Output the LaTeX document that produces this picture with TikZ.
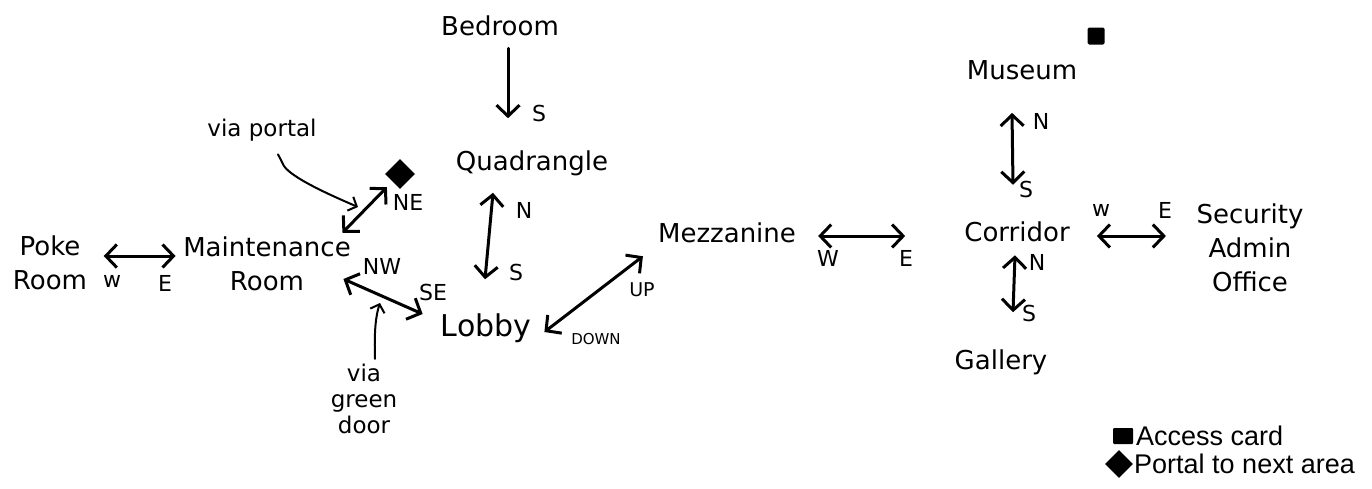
\documentclass[tikz,border=0pt]{standalone}
\usepackage{fontspec}
\setmainfont{DejaVu Sans}
\newfontfamily\legendfont{Liberation Sans}
\usetikzlibrary{arrows.meta,shapes.geometric}
\begin{document}
\begin{tikzpicture}[x=1pt,y=-1pt,
  room/.style={font=\fontsize{26}{34}\selectfont, inner sep=1pt, align=center},
  dirlab/.style={font=\fontsize{22}{24}\selectfont, inner sep=0pt},
  note/.style={font=\fontsize{23}{26}\selectfont, inner sep=1pt, align=center},
  barb/.tip={Straight Barb[length=11pt,width=23pt,line width=3pt]},
  link/.style={line width=3pt, line cap=round, barb-barb},
  oneway/.style={line width=3pt, line cap=round, -barb},
  pointer/.style={line width=2pt, line cap=round, -{Straight Barb[length=7pt,width=15pt,line width=2pt]}},
  legendtext/.style={font=\legendfont\fontsize{27}{29}\selectfont, anchor=west, inner sep=0pt},
]
\useasboundingbox (0,0) rectangle (1372,488);

% rooms
\node[room] (bedroom) at (500,26) {Bedroom};
\node[room] (quad) at (532,163) {Quadrangle};
\node[room, font=\fontsize{30}{34}\selectfont] (lobby) at (486,328) {Lobby};
\node[room] (maint) at (267,264) {Maintenance\\Room};
\node[room] (poke) at (50,263) {Poke\\Room};
\node[room] (mezz) at (727,233) {Mezzanine};
\node[room] (corr) at (1017,232) {Corridor};
\node[room] (museum) at (1022,70) {Museum};
\node[room] (gallery) at (1001,362) {Gallery};
\node[room] (sec) at (1250,248) {Security\\Admin\\Office};

% items
\node[diamond, fill=black, minimum width=30pt, minimum height=30pt, inner sep=0pt] (portal) at (400,174) {};
\node[fill=black, rounded corners=1.5pt, minimum width=17pt, minimum height=17pt, inner sep=0pt] (card) at (1096,36) {};

% notes
\node[note] (vianote) at (262,130) {via portal};
\node[note] (greennote) at (364,399) {via\\green\\door};
\coordinate (portalin) at (358,207);
\coordinate (greenin) at (380,303);

% connectors
\draw[oneway] ([xshift=8pt,yshift=-11pt]bedroom.south) -- ([xshift=-24pt,yshift=31pt]quad.north);
\draw[link] ([xshift=-39pt,yshift=-16pt]quad.south) -- ([xshift=-1pt,yshift=33pt]lobby.north);
\draw[link] ([xshift=15.5pt,yshift=7pt]poke.east) -- ([xshift=-6.5pt,yshift=8pt]maint.west);
\draw[link] ([xshift=-9.5pt,yshift=3pt]maint.north east) -- ([xshift=-5.5pt,yshift=-5.5pt]portal.south west);
\draw[link] ([xshift=-8.5pt,yshift=-15pt]maint.east) -- ([xshift=-17pt,yshift=14pt]lobby.west);
\draw[link] ([xshift=12pt,yshift=-4pt]lobby.east) -- ([xshift=-14pt,yshift=-12pt]mezz.south west);
\draw[link] ([xshift=21pt,yshift=-3pt]mezz.east) -- ([xshift=-58pt,yshift=-4pt]corr.west);
\draw[link] ([xshift=-10pt,yshift=-32pt]museum.south) -- ([xshift=-4pt,yshift=36pt]corr.north);
\draw[link] ([xshift=-2pt,yshift=-12pt]corr.south) -- ([xshift=12pt,yshift=36pt]gallery.north);
\draw[link] ([xshift=26pt,yshift=-4pt]corr.east) -- ([xshift=-29.5pt,yshift=12pt]sec.west);

\draw[pointer] ([xshift=16pt,yshift=-12pt]vianote.south) -- (284,166) .. controls (292,178) and (330,195) .. (portalin);
\draw[pointer] ([xshift=11pt,yshift=4pt]greennote.north) .. controls (374,330) and (376,315) .. (greenin);

% direction labels
\node[dirlab] (pw) at (112,281) {w};
\node[dirlab] (pe) at (165,283) {E};
\node[dirlab] (bs) at (539,113) {S};
\node[dirlab] (qn) at (524,210) {N};
\node[dirlab] (qs) at (516,272) {S};
\node[dirlab] (ne) at (408,202) {NE};
\node[dirlab] (nw) at (382,266) {NW};
\node[dirlab] (se) at (433,292) {SE};
\node[dirlab, font=\fontsize{19}{20}\selectfont] (up) at (642,290) {UP};
\node[dirlab, font=\fontsize{15}{16}\selectfont] (down) at (596,339) {DOWN};
\node[dirlab] (mw) at (828,258) {W};
\node[dirlab] (me) at (906,258) {E};
\node[dirlab] (mun) at (1041,121) {N};
\node[dirlab] (mus) at (1026,189) {S};
\node[dirlab] (gn) at (1037,262) {N};
\node[dirlab] (gs) at (1029,313) {S};
\node[dirlab] (sw) at (1101,210) {w};
\node[dirlab] (se2) at (1165,210) {E};

% legend
\node[fill=black, minimum width=20pt, minimum height=16pt, inner sep=0pt, rounded corners=1pt] (lcard) at (1123,436) {};
\node[diamond, fill=black, minimum width=28pt, minimum height=28pt, inner sep=0pt] (lportal) at (1119,464) {};
\node[legendtext] (lcardt) at (1136,436) {Access card};
\node[legendtext] (lportalt) at (1134,464) {Portal to next area};
\end{tikzpicture}
\end{document}
